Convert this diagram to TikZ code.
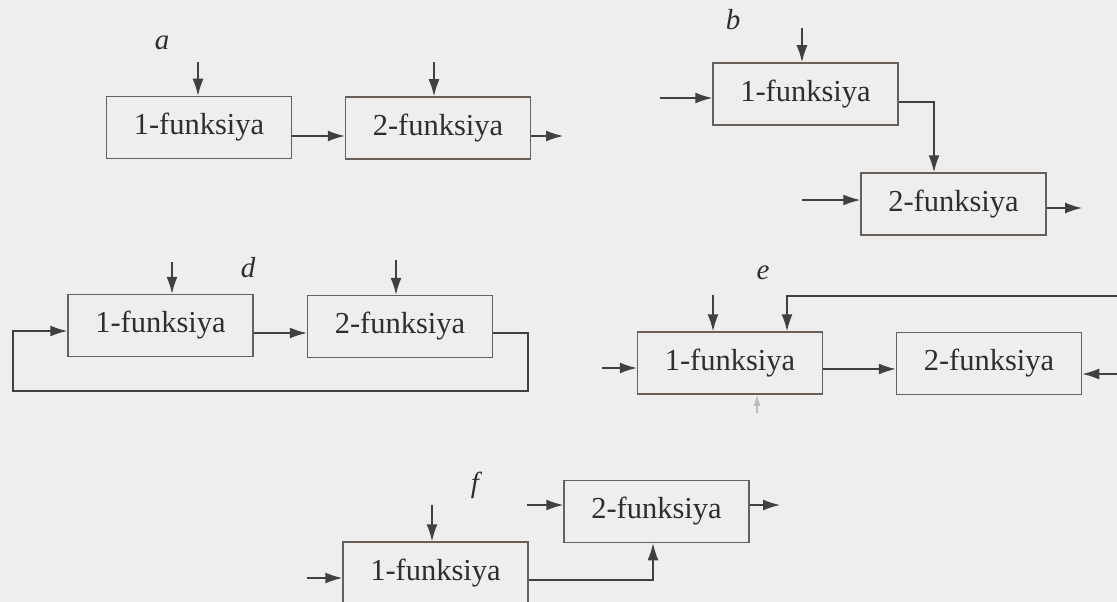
\documentclass[tikz,border=0pt]{standalone}
\usepackage{fontspec}
\setmainfont{Liberation Serif}
\usetikzlibrary{arrows.meta}
\definecolor{bg}{HTML}{EEEEEE}
\definecolor{ln}{HTML}{404040}
\definecolor{bx}{HTML}{6A605A}
\definecolor{tx}{HTML}{2E2E2E}
\tikzset{
  fbox/.style={draw=bx, line width=1.5pt, minimum width=185pt, minimum height=62pt,
    inner sep=0pt, font=\fontsize{30.5}{36}\selectfont, text=tx},
  lab/.style={font=\fontsize{29}{34}\selectfont\itshape, text=tx},
  conn/.style={draw=ln, line width=1.5pt, -{Latex[length=17pt,width=11pt]}},
  faint/.style={draw=ln!35, line width=1.2pt, -{Latex[length=11pt,width=7pt]}},
}
\begin{document}
\begin{tikzpicture}[x=1pt,y=-1pt]
\useasboundingbox (0,0) rectangle (1117,602);
\clip (0,0) rectangle (1117,602);
\fill[bg] (0,0) rectangle (1117,602);

% a
\node[lab] (la) at (162,43) {a};
\node[fbox] (a1) at (199,127.5) {1-funksiya};
\node[fbox] (a2) at (438,128) {2-funksiya};
\coordinate (a1in) at (198,62);
\coordinate (a2in) at (434,62);
\coordinate (a2out) at (563,136);
\draw[conn] (a1in) -- (a1in |- a1.north);
\draw[conn] (a2in) -- (a2in |- a2.north);
\draw[conn] (a1.east |- 0,136) -- (a2.west |- 0,136);
\draw[conn] (a2.east |- a2out) -- (a2out);

% b
\node[lab] (lb) at (733,20) {b};
\node[fbox] (b1) at (805.5,94) {1-funksiya};
\node[fbox] (b2) at (953.5,204) {2-funksiya};
\coordinate (b1top) at (802,28);
\coordinate (b1left) at (660,98);
\coordinate (b2left) at (802,200);
\coordinate (b2out) at (1082,208);
\coordinate (bk) at (934,102);
\draw[conn] (b1top) -- (b1top |- b1.north);
\draw[conn] (b1left) -- (b1.west |- b1left);
\draw[conn] (b1.east |- bk) -- (bk) -- (bk |- b2.north);
\draw[conn] (b2left) -- (b2.west |- b2left);
\draw[conn] (b2.east |- b2out) -- (b2out);

% d
\node[lab] (ld) at (248,268) {d};
\node[fbox] (d1) at (160.5,325.5) {1-funksiya};
\node[fbox] (d2) at (400,326.5) {2-funksiya};
\coordinate (d1top) at (172,262);
\coordinate (d2top) at (396,260);
\coordinate (dr) at (528,333);
\coordinate (dbr) at (528,391);
\coordinate (dbl) at (13,391);
\coordinate (dl) at (13,331);
\draw[conn] (d1top) -- (d1top |- d1.north);
\draw[conn] (d2top) -- (d2top |- d2.north);
\draw[conn] (d1.east |- 0,333) -- (d2.west |- 0,333);
\draw[conn] (d2.east |- dr) -- (dr) -- (dbr) -- (dbl) -- (dl) -- (d1.west |- dl);

% e
\node[lab] (le) at (763,273) {e};
\node[fbox] (e1) at (730,363) {1-funksiya};
\node[fbox] (e2) at (989,363.5) {2-funksiya};
\coordinate (e1top) at (713,295);
\coordinate (efb) at (1117,296);
\coordinate (efk) at (787,296);
\coordinate (e1left) at (602,368);
\coordinate (e2right) at (1117,374);
\coordinate (e1bot) at (757,413);
\draw[conn] (e1top) -- (e1top |- e1.north);
\draw[conn] (efb) -- (efk) -- (efk |- e1.north);
\draw[conn] (e1left) -- (e1.west |- e1left);
\draw[conn] (e1.east |- 0,369) -- (e2.west |- 0,369);
\draw[conn] (e2right) -- (e2.east |- e2right);
\draw[faint] (e1bot) -- (e1bot |- e1.south);

% f
\node[lab] (lf) at (475,485) {f};
\node[fbox] (f2) at (656.5,511.5) {2-funksiya};
\node[fbox] (f1) at (435.5,573) {1-funksiya};
\coordinate (f1top) at (432,505);
\coordinate (f1left) at (307,578);
\coordinate (fk) at (653,580);
\coordinate (f2left) at (527,505);
\coordinate (f2out) at (780,505);
\draw[conn] (f1top) -- (f1top |- f1.north);
\draw[conn] (f1left) -- (f1.west |- f1left);
\draw[conn] (f1.east |- fk) -- (fk) -- (fk |- f2.south);
\draw[conn] (f2left) -- (f2.west |- f2left);
\draw[conn] (f2.east |- f2out) -- (f2out);
\end{tikzpicture}
\end{document}
